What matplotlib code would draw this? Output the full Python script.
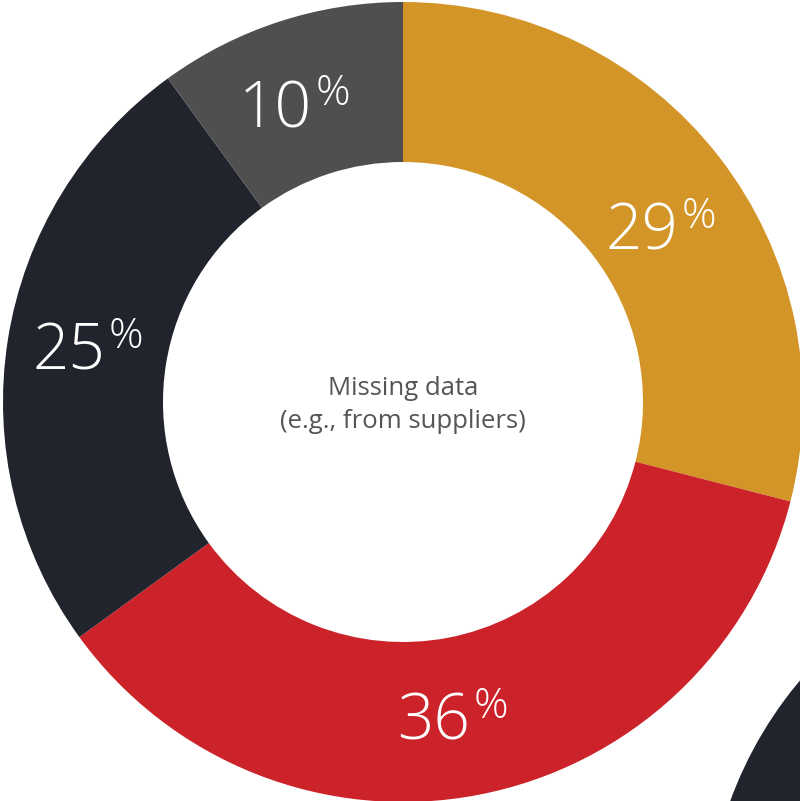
import numpy as np
import matplotlib.pyplot as plt
from matplotlib.patches import Circle

# values
labels = ['29', '36', '25', '10']
shares = [29, 36, 25, 10]
colors = ['#D39527', '#CC2229', '#21232D', '#4F4F4F']
center_text = 'Missing data\n(e.g., from suppliers)'

# label anchors (right edge of the number, baseline) in pixels from top-left
label_pos = [(678, 250), (470, 740), (105, 370), (312, 127)]

W, H = 800, 801
fig = plt.figure(figsize=(8, 8.01), dpi=100)
ax = fig.add_axes([0, 0, 1, 1])

cx, cy = 403, H - 402
R, ring = 400, 160

# part of the next chart peeking in at the bottom right
ax.add_patch(Circle((1106, H - 938), 400, color='#21232D', lw=0))

ax.pie(shares, colors=colors, startangle=90, counterclock=False,
       center=(cx, cy), radius=R, frame=True,
       wedgeprops=dict(width=ring, linewidth=0))
ax.set_xlim(0, W)
ax.set_ylim(0, H)
ax.set_aspect('equal')
ax.axis('off')

font = 'Open Sans'
for lab, (px, py) in zip(labels, label_pos):
    ax.text(px, H - py, lab, ha='right', va='baseline', fontsize=46,
            color='white', family=font, fontweight='light')
    ax.text(px + 4, H - py + 22, '%', ha='left', va='baseline', fontsize=31,
            color='white', family=font, fontweight='light')

ax.text(cx, H - 405, center_text, ha='center', va='center', fontsize=18.5,
        color='#555555', family=font, linespacing=1.45)

fig.savefig('out.png', dpi=100)
